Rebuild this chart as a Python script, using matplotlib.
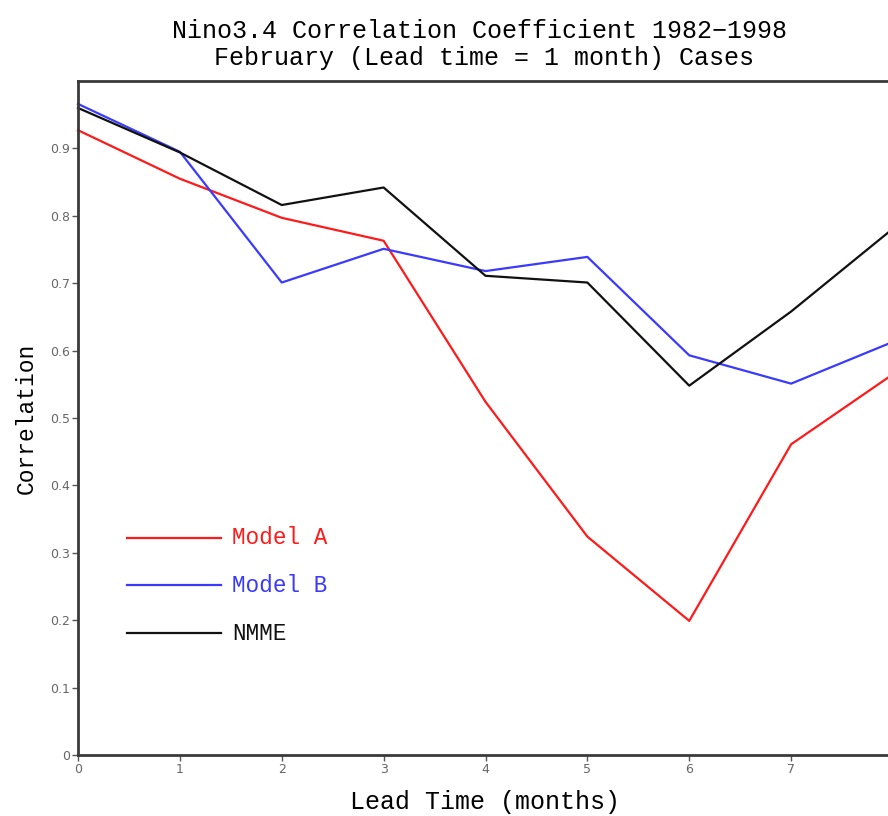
import numpy as np
from matplotlib import pyplot as plt

# lead time (months) and correlation per model
lead = [0, 1, 2, 3, 4, 5, 6, 7, 8]
modelA = [0.927, 0.855, 0.797, 0.763, 0.524, 0.324, 0.199, 0.461, 0.565]
modelB = [0.966, 0.895, 0.701, 0.751, 0.718, 0.739, 0.593, 0.551, 0.613]
nmme = [0.960, 0.894, 0.816, 0.842, 0.711, 0.701, 0.548, 0.658, 0.781]

labels = ['Model A', 'Model B', 'NMME']
colors = ['#ff1a1a', '#3a3aff', '#111111']
xtickLabels = ['0', '1', '2', '3', '4', '5', '6', '7', '']
yticks = [0, 0.1, 0.2, 0.3, 0.4, 0.5, 0.6, 0.7, 0.8, 0.9]
ytickLabels = ['0', '0.1', '0.2', '0.3', '0.4', '0.5', '0.6', '0.7', '0.8', '0.9']

fig = plt.figure(figsize=(8.88, 8.16), dpi=100)
ax = fig.add_axes([78/888, 61/816, 815/888, 674/816])

for vals, c in zip([modelA, modelB, nmme], colors):
    ax.plot(lead, vals, color=c, lw=1.6, clip_on=False)

ax.set_xlim(0, 8)
ax.set_ylim(0, 1)
ax.set_xticks(lead)
ax.set_xticklabels(xtickLabels)
ax.set_yticks(yticks)
ax.set_yticklabels(ytickLabels)
ax.tick_params(direction='out', length=4, width=1, color='#555555',
               labelsize=9, labelcolor='#666666', pad=2)
for s in ['left', 'bottom', 'top']:
    ax.spines[s].set_linewidth(2)
    ax.spines[s].set_color('#3a3a3a')
ax.spines['right'].set_visible(False)

mono = 'Liberation Mono'
fig.text(479/888, 1 - 38/816, 'Nino3.4 Correlation Coefficient 1982\u22121998',
         family=mono, fontsize=18, ha='center', va='baseline')
fig.text(484/888, 1 - 65/816, 'February (Lead time = 1 month) Cases',
         family=mono, fontsize=18, ha='center', va='baseline')
fig.text(485/888, 1 - 809/816, 'Lead Time (months)',
         family=mono, fontsize=18, ha='center', va='baseline')
fig.text(26/888, 1 - 418/816, 'Correlation', rotation=90,
         family=mono, fontsize=16.5, ha='center', va='center')

# hand-drawn key in axes coordinates
keyY = [0.322, 0.252, 0.181]
for lab, c, ky in zip(labels, colors, keyY):
    ax.plot([0.060, 0.1755], [ky, ky], color=c, lw=1.6, transform=ax.transAxes)
    ax.text(0.189, ky, lab, color=c, family=mono, fontsize=16.3,
            va='center', ha='left', transform=ax.transAxes)

fig.savefig('out.png', dpi=100)
